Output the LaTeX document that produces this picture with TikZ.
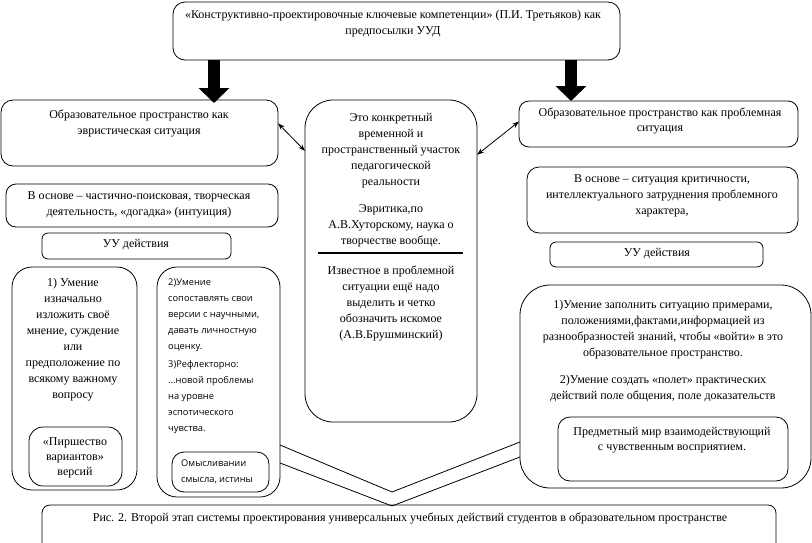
\documentclass[tikz,border=0pt]{standalone}
\usepackage{fontspec}
\setmainfont{Liberation Serif}
\newfontfamily\sansf{Open Sans}
\usetikzlibrary{arrows.meta}
\newcommand{\bx}[6]{\node[box, rounded corners=#6pt, minimum width={#4-#2}, minimum height={#5-#3}] (#1) at ({(#2+#4)/2},{(#3+#5)/2}) {};}
\begin{document}
\begin{tikzpicture}[x=1pt,y=-1pt,
  box/.style={draw, line width=0.8pt, inner sep=0pt, outer sep=0pt},
  txt/.style={align=center, inner sep=0pt, font=\fontsize{12}{16}\selectfont},
  stxt/.style={align=left, inner sep=0pt, font=\sansf\fontsize{9.3}{16}\selectfont},
  bigarrow/.style={line width=12pt, -{Triangle[length=15pt,width=30pt]}},
  dbl/.style={line width=0.8pt, {Stealth[length=7pt,width=5pt]}-{Stealth[length=7pt,width=5pt]}},
  chev/.style={line width=0.8pt}]
\useasboundingbox (0,0) rectangle (812,542);
\clip (0,0) rectangle (812,542);
% boxes
\bx{top}{173}{2}{620}{60}{12}
\bx{l1}{1}{100}{278}{166}{12}
\bx{l2}{6}{184}{278}{227}{10}
\bx{luu}{42}{233}{231}{259}{6}
\bx{l3}{12}{267}{137}{490}{20}
\bx{l3i}{29}{427}{122}{486}{14}
\bx{l4}{157}{267}{280}{497}{20}
\bx{l4i}{172}{452}{269}{492}{12}
\bx{mid}{305}{100}{477}{422}{28}
\bx{r1}{519}{101}{798}{147}{10}
\bx{r2}{527}{167}{798}{233}{12}
\bx{ruu}{550}{242}{763}{267}{6}
\bx{r3}{520}{285}{811}{488}{30}
\bx{r3i}{558}{417}{788}{481}{12}
\bx{cap}{42}{505}{776}{560}{8}
% texts
\node[txt] (ttop) at (393,23.5) {«Конструктивно-проектировочные ключевые компетенции» (П.И. Третьяков) как\\предпосылки УУД};
\node[txt] (tl1) at (139,123.5) {Образовательное пространство как\\эвристическая ситуация};
\node[txt] (tl2) at (139,204.5) {В основе – частично-поисковая, творческая\\деятельность, «догадка» (интуиция)};
\node[txt] (tluu) at (136,245) {УУ действия};
\node[txt] (tl3) at (73,340) {1) Умение\\изначально\\изложить своё\\мнение, суждение\\или\\предположение по\\всякому важному\\вопросу};
\node[txt, font=\fontsize{12}{15}\selectfont] (tl3i) at (75,458) {«Пиршество\\вариантов»\\версий};
\node[stxt, anchor=west] (tl4) at (168,356) {2)Умение\\сопоставлять свои\\версии с научными,\\давать личностную\\оценку.\\[2pt]3)Рефлекторно:\\...новой проблемы\\на уровне\\эспотического\\чувства.};
\node[stxt, anchor=west] (tl4i) at (181,472) {Омысливании\\смысла, истины};
\node[txt] (tm1) at (391,150.5) {Это конкретный\\временной и\\пространственный участок\\педагогической\\реальности};
\node[txt] (tm2) at (391,226) {Эвритика,по\\А.В.Хуторскому, наука о\\творчестве вообще.};
\node[txt] (tm3) at (391,303.5) {Известное в проблемной\\ситуации ещё надо\\выделить и четко\\обозначить искомое\\(А.В.Брушминский)};
\node[txt, font=\fontsize{12}{14.5}\selectfont] (tr1) at (660,121) {Образовательное пространство как проблемная\\ситуация};
\node[txt] (tr2) at (662,196) {В основе – ситуация критичности,\\интеллектуального затруднения проблемного\\характера,};
\node[txt] (truu) at (657,254) {УУ действия};
\node[txt] (tr3) at (663,351) {1)Умение заполнить ситуацию примерами,\\положениями,фактами,информацией из\\разнообразностей знаний, чтобы «войти» в это\\образовательное пространство.\\[11pt]2)Умение создать «полет» практических\\действий поле общения, поле доказательств};
\node[txt, font=\fontsize{12}{15}\selectfont] (tr3i) at (672,440) {Предметный мир взаимодействующий\\с чувственным восприятием.};
\node[txt] (tcap) at (410,518) {Рис. 2. Второй этап системы проектирования универсальных учебных действий студентов в образовательном пространстве};
% separator in middle box
\coordinate (sepy) at (0,253);
\draw[line width=2.5pt] ([xshift=13pt]mid.west |- sepy) -- ([xshift=-14pt]mid.east |- sepy);
% big arrows
\coordinate (ax1) at (214,0);
\coordinate (ax2) at (571,0);
\draw[bigarrow, shorten >=-3pt] (top.south -| ax1) -- (l1.north -| ax1);
\draw[bigarrow] (top.south -| ax2) -- (r1.north -| ax2);
% double arrows
\draw[dbl] (l1.4.5) -- (mid.128.5);
\draw[dbl] (mid.51.5) -- (r1.179.2);
% chevron lines
\coordinate (cu1) at (0,445);
\coordinate (cu2) at (0,442);
\coordinate (cl1) at (0,463);
\coordinate (cl2) at (0,457);
\coordinate (apu) at (392,492);
\coordinate (apl) at (392,506);
\draw[chev] (l4.east |- cu1) -- (apu) -- (r3.west |- cu2);
\draw[chev] (l4.east |- cl1) -- (apl) -- (r3.west |- cl2);
\end{tikzpicture}
\end{document}
